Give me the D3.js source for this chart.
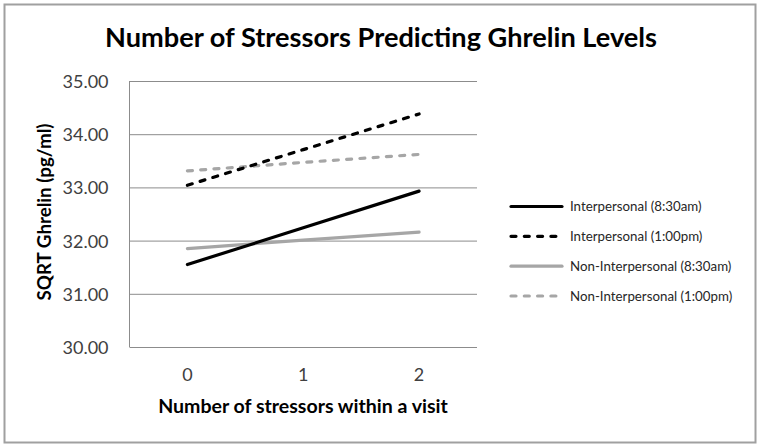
<!DOCTYPE html>
<html lang="en">
<head>
<meta charset="UTF-8">
<title>Number of Stressors Predicting Ghrelin Levels</title>
<script src="https://d3js.org/d3.v7.min.js"></script>
<style>
    * { margin: 0; padding: 0; }
    body { background: #fff; }
    svg { display: block; }
</style>
</head>
<body>
<svg id="chart"></svg>
<script>
    // Data
    const categories = ['0', '1', '2'];
    const yTicks = [30, 31, 32, 33, 34, 35];
    const seriesNames = ['Interpersonal (8:30am)', 'Interpersonal (1:00pm)', 'Non-Interpersonal (8:30am)', 'Non-Interpersonal (1:00pm)'];
    const interpersonalAM = [31.55, 32.24, 32.93];
    const interpersonalPM = [33.04, 33.71, 34.38];
    const nonInterpersonalAM = [31.85, 32.01, 32.16];
    const nonInterpersonalPM = [33.31, 33.47, 33.62];

    const W = 762, H = 448;
    const FONT = 'Lato, "Open Sans", sans-serif';
    const plot = { left: 129.5, right: 477, top: 81, bottom: 347 };

    const svg = d3.select('#chart').attr('width', W).attr('height', H);

    // font-size that makes a text span the width seen in the reference
    function fitSize(node, size, target) {
        const len = node.getComputedTextLength();
        return len > 0 ? +(size * target / len).toFixed(2) : size;
    }
    function fitWidth(sel, target) {
        sel.attr('font-size', fitSize(sel.node(), parseFloat(sel.attr('font-size')), target));
    }

    // outer chart border
    svg.append('rect')
        .attr('x', 4.5).attr('y', 4.5)
        .attr('width', 751).attr('height', 438)
        .attr('fill', '#fff')
        .attr('stroke', '#a0a0a0')
        .attr('stroke-width', 2);

    const x = d3.scaleBand().domain(categories).range([plot.left, plot.right]);
    const y = d3.scaleLinear().domain([30, 35]).range([plot.bottom, plot.top]);
    const cx = d => x(d) + x.bandwidth() / 2;

    // gridlines + y tick labels
    const yAxis = svg.append('g')
        .attr('transform', `translate(${plot.left},0)`)
        .call(d3.axisLeft(y).tickValues(yTicks).tickFormat(d3.format('.2f'))
            .tickSizeInner(-(plot.right - plot.left)).tickSizeOuter(0).tickPadding(21))
        .call(g => g.select('.domain').remove())
        .call(g => g.selectAll('line').attr('stroke', '#8c8c8c'))
        .call(g => g.selectAll('text')
            .attr('font-family', FONT).attr('font-size', 16)
            .attr('fill', '#404040').attr('dy', '0.36em'));

    // tick labels: "35.00" is about 46px wide in the reference
    const tickSize = fitSize(yAxis.select('text').node(), 16, 46);
    yAxis.selectAll('text').attr('font-size', tickSize);

    // left axis line
    svg.append('line')
        .attr('x1', plot.left).attr('x2', plot.left)
        .attr('y1', plot.top).attr('y2', plot.bottom)
        .attr('stroke', '#8c8c8c');

    // x tick labels
    svg.append('g')
        .attr('transform', `translate(0,${plot.bottom})`)
        .call(d3.axisBottom(x).tickSize(0).tickPadding(21))
        .call(g => g.select('.domain').remove())
        .call(g => g.selectAll('text')
            .attr('font-family', FONT).attr('font-size', tickSize)
            .attr('fill', '#404040'));

    const series = [
        { name: seriesNames[0], values: interpersonalAM, color: '#000000', dash: null },
        { name: seriesNames[1], values: interpersonalPM, color: '#000000', dash: '5,8.3' },
        { name: seriesNames[2], values: nonInterpersonalAM, color: '#a6a6a6', dash: null },
        { name: seriesNames[3], values: nonInterpersonalPM, color: '#a6a6a6', dash: '5,8.3' }
    ];

    const line = d3.line().x((d, i) => cx(categories[i])).y(d => y(d));

    // gray ones first, black on top
    [2, 3, 0, 1].forEach(i => {
        const s = series[i];
        svg.append('path')
            .datum(s.values)
            .attr('d', line)
            .attr('fill', 'none')
            .attr('stroke', s.color)
            .attr('stroke-width', 3.2)
            .attr('stroke-linecap', 'round')
            .attr('stroke-dasharray', s.dash);
    });

    // legend
    const legend = svg.append('g');
    const legendY = d3.scalePoint().domain(seriesNames).range([206.5, 296]);
    series.forEach(s => {
        const gy = legendY(s.name);
        legend.append('line')
            .attr('x1', 511).attr('x2', 562)
            .attr('y1', gy).attr('y2', gy)
            .attr('stroke', s.color)
            .attr('stroke-width', 3.2)
            .attr('stroke-linecap', 'round')
            .attr('stroke-dasharray', s.dash);
        legend.append('text')
            .attr('x', 570).attr('y', gy)
            .attr('dy', '0.36em')
            .attr('font-family', FONT)
            .attr('font-size', 13.3)
            .attr('fill', '#262626')
            .text(s.name);
    });

    // titles
    const title = svg.append('text')
        .attr('x', 381).attr('y', 47)
        .attr('text-anchor', 'middle')
        .attr('font-family', FONT)
        .attr('font-weight', 'bold')
        .attr('font-size', 26)
        .attr('fill', '#000')
        .text('Number of Stressors Predicting Ghrelin Levels');
    fitWidth(title, 552);

    const xTitle = svg.append('text')
        .attr('x', 303).attr('y', 413)
        .attr('text-anchor', 'middle')
        .attr('font-family', FONT)
        .attr('font-weight', 'bold')
        .attr('font-size', 18)
        .attr('fill', '#000')
        .text('Number of stressors  within a visit');
    fitWidth(xTitle, 290);

    const yTitle = svg.append('text')
        .attr('transform', 'translate(51,212) rotate(-90)')
        .attr('text-anchor', 'middle')
        .attr('font-family', FONT)
        .attr('font-weight', 'bold')
        .attr('font-size', 18)
        .attr('fill', '#000')
        .text('SQRT Ghrelin (pg/ml)');
    fitWidth(yTitle, 177);
</script>
</body>
</html>
